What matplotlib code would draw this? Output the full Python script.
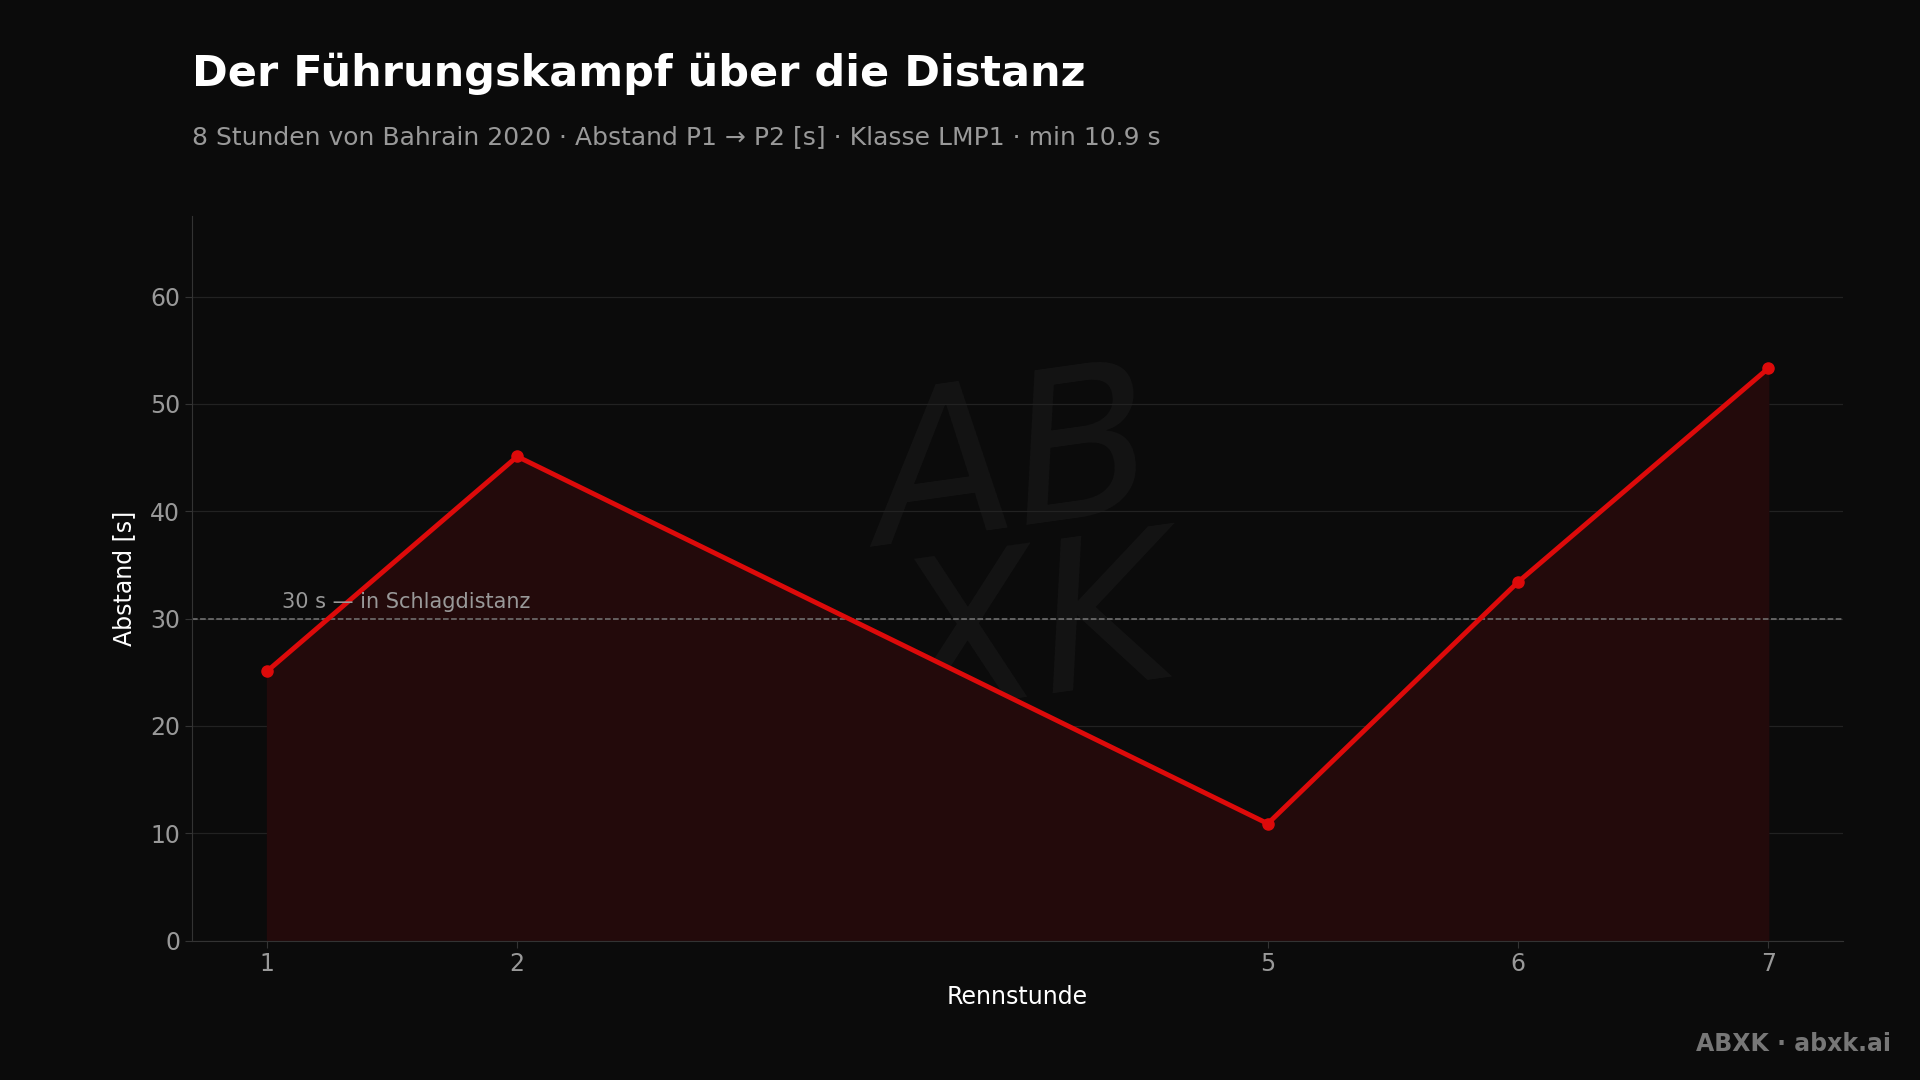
import matplotlib.pyplot as plt

plt.rcParams["font.family"] = ["DejaVu Sans"]

hours = [1, 2, 5, 6, 7]
gap_s = [25.1, 45.1, 10.9, 33.4, 53.3]
threshold = 30
title = "Der Führungskampf über die Distanz"
subtitle = "8 Stunden von Bahrain 2020 · Abstand P1 → P2 [s] · Klasse LMP1 · min 10.9 s"

BG = "#0b0b0b"
RED = "#dd0a0a"

fig = plt.figure(figsize=(19.2, 10.8), dpi=100, facecolor=BG)
ax = fig.add_axes([0.100, 0.129, 0.860, 0.671], facecolor=BG)

ax.fill_between(hours, gap_s, 0, color="#230a0b", zorder=1)
ax.plot(hours, gap_s, color=RED, lw=3.5, marker="o", ms=8, zorder=3)
ax.axhline(threshold, color="#777777", lw=1.1, ls="--", zorder=2)
ax.text(1.06, threshold + 0.6, "30 s — in Schlagdistanz", color="#999999", fontsize=15, va="bottom")

# watermark
ax.text(4.03, 36, "AB\nXK", color="#ffffff", alpha=0.04, fontsize=150, style="italic",
        ha="center", va="center", linespacing=0.8, rotation=8, zorder=0)

ax.set_xlim(0.70, 7.30)
ax.set_ylim(0, 67.5)
ax.set_xticks(hours)
ax.set_yticks(range(0, 61, 10))
ax.grid(axis="y", color="#222222", lw=0.9)
ax.set_axisbelow(True)
for s in ["top", "right"]:
    ax.spines[s].set_visible(False)
for s in ["left", "bottom"]:
    ax.spines[s].set_color("#333333")
ax.tick_params(colors="#333333", labelcolor="#999999", labelsize=17, length=5)
ax.set_xlabel("Rennstunde", color="#ffffff", fontsize=17, labelpad=6)
ax.set_ylabel("Abstand [s]", color="#ffffff", fontsize=17, labelpad=10)

fig.text(0.100, 0.932, title, color="#ffffff", fontsize=31, fontweight="bold", va="center")
fig.text(0.100, 0.873, subtitle, color="#999999", fontsize=18, va="center")
fig.text(0.985, 0.033, "ABXK · abxk.ai", color="#777777", fontsize=17, fontweight="bold",
         ha="right", va="center")

fig.savefig("out.png", dpi=100, facecolor=BG)
